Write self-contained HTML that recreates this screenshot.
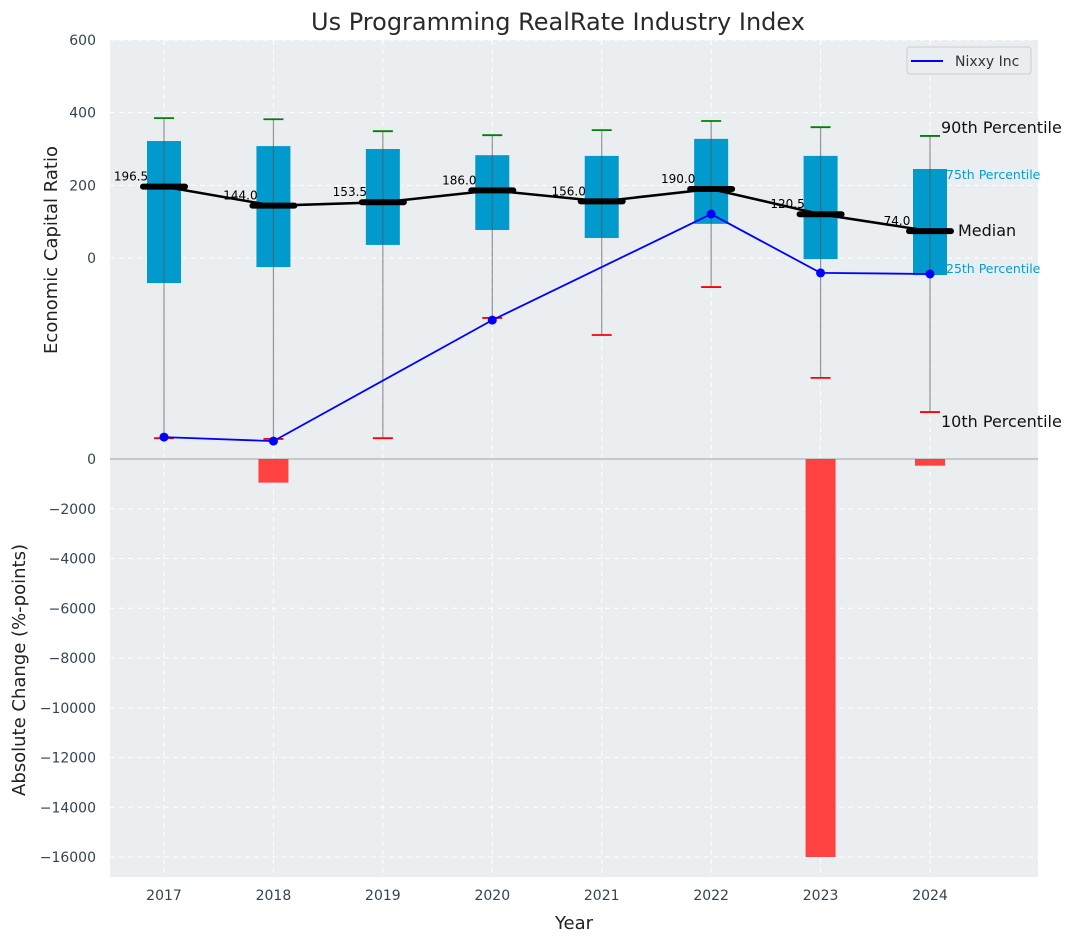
<!DOCTYPE html>
<html><head><meta charset="utf-8"><style>
body{margin:0;background:#fff;font-family:"Liberation Sans","DejaVu Sans",sans-serif;}
svg text{font-family:"DejaVu Sans","Liberation Sans",sans-serif;}
</style></head><body>
<svg id="c" width="1076" height="942" xmlns="http://www.w3.org/2000/svg">
<rect x="110" y="40" width="928" height="837" fill="#eaeef0"/>
<g id="grid"></g>
<g id="marks"></g>
<text x="558" y="30" font-size="24" text-anchor="middle" fill="#2a2a2a">Us Programming RealRate Industry Index</text>
<text x="574" y="929" font-size="18" text-anchor="middle" fill="#222">Year</text>
<text transform="translate(57,250) rotate(-90)" font-size="18" text-anchor="middle" fill="#222">Economic Capital Ratio</text>
<text transform="translate(25,670) rotate(-90)" font-size="18" text-anchor="middle" fill="#222">Absolute Change (%-points)</text>
<g>
<rect x="907" y="47" width="124" height="27" rx="3" fill="#eaeef0" stroke="#ccc"/>
<line x1="911" y1="61" x2="943" y2="61" stroke="#0000ff" stroke-width="2"/>
<text x="955" y="66" font-size="14" fill="#333">Nixxy Inc</text>
</g>
<text x="941" y="133" font-size="16" fill="#111">90th Percentile</text>
<text x="946" y="179" font-size="12.5" fill="#00a0d0">75th Percentile</text>
<text x="958" y="236" font-size="16" fill="#111">Median</text>
<text x="946" y="273" font-size="12.5" fill="#00a0d0">25th Percentile</text>
<text x="941" y="427" font-size="16" fill="#111">10th Percentile</text>
</svg>
<script>
const years=[2017,2018,2019,2020,2021,2022,2023,2024];
const p90=[385,382,349,338,352,377,360,336];
const q3=[322,308,300,283,281,328,281,245];
const medians=[196.5,144.0,153.5,186.0,156.0,190.0,120.5,74.0];
const q1=[-69,-25,36,77,55,94,-3,-47];
const p10=[-496,-498,-496,-165,-212,-80,-330,-424];
const nixxyYears=[2017,2018,2020,2022,2023,2024];
const nixxy=[-493,-504,-171,121,-41,-44];
const changes=[0,-950,0,0,0,0,-16000,-270];
const topTicks=[0,200,400,600];
const bottomTicks=[0,-2000,-4000,-6000,-8000,-10000,-12000,-14000,-16000];

const NS="http://www.w3.org/2000/svg";
const X=y=>164+(y-2017)*109.43;
const YT=v=>258-v*0.3633;
const YB=v=>459-v*(-398/-16000);
const g=document.getElementById('grid'),m=document.getElementById('marks'),svg=document.getElementById('c');
function el(p,t,a){const e=document.createElementNS(NS,t);for(const k in a)e.setAttribute(k,a[k]);p.appendChild(e);return e;}

[600,400,200,0].forEach(v=>{const l=el(g,'line',{x1:110,x2:1038,y1:YT(v),y2:YT(v),stroke:'#fff','stroke-dasharray':'5,4','stroke-width':1});

});
bottomTicks.forEach(v=>{if(v===0)return;const l=el(g,'line',{x1:110,x2:1038,y1:YB(v),y2:YB(v),stroke:'#fff','stroke-dasharray':'5,4'});

});
years.forEach(y=>{const l=el(g,'line',{x1:X(y),x2:X(y),y1:40,y2:877,stroke:'#fff','stroke-dasharray':'5,4'});


const t=el(svg,'text',{x:X(y),y:900,'font-size':14,'text-anchor':'middle',fill:'#334455'});t.textContent=y;

});
topTicks.forEach(v=>{const t=el(svg,'text',{x:96,y:YT(v)+5,'font-size':14,'text-anchor':'end',fill:'#334455'});t.textContent=v;

});
bottomTicks.forEach(v=>{const t=el(svg,'text',{x:96,y:YB(v)+5,'font-size':14,'text-anchor':'end',fill:'#334455'});t.textContent=v.toString().replace('-','\u2212');

});
const z=el(m,'line',{x1:110,x2:1038,y1:YB(0),y2:YB(0),stroke:'#bbb','stroke-width':1.5});



years.forEach((y,i)=>{const x=X(y);
const b=el(m,'rect',{x:x-17,y:YT(q3[i]),width:34,height:YT(q1[i])-YT(q3[i]),fill:'#009acd'});


const w=el(m,'line',{x1:x,x2:x,y1:YT(p90[i]),y2:YT(p10[i]),stroke:'#555','stroke-opacity':0.6,'stroke-width':1.2});


const c1=el(m,'line',{x1:x-10,x2:x+10,y1:YT(p90[i]),y2:YT(p90[i]),stroke:'green','stroke-width':1.8});


const c2=el(m,'line',{x1:x-10,x2:x+10,y1:YT(p10[i]),y2:YT(p10[i]),stroke:'red','stroke-width':1.8});


if(changes[i]!==0){const r=el(m,'rect',{x:x-15,y:YB(0),width:30,height:YB(changes[i])-YB(0),fill:'#ff3333','fill-opacity':0.92});

}
});
const ml=el(m,'polyline',{points:years.map((y,i)=>X(y)+','+YT(medians[i])).join(' '),fill:'none',stroke:'#000','stroke-width':2.5});


years.forEach((y,i)=>{const x=X(y);
const s=el(m,'line',{x1:x-21,x2:x+21,y1:YT(medians[i]),y2:YT(medians[i]),stroke:'#000','stroke-width':6,'stroke-linecap':'round'});


const t=el(m,'text',{x:x-33,y:YT(medians[i])-6,'font-size':12,'text-anchor':'middle',fill:'#000'});t.textContent=medians[i].toFixed(1);

});
const nl=el(m,'polyline',{points:nixxyYears.map((y,i)=>X(y)+','+YT(nixxy[i])).join(' '),fill:'none',stroke:'#0000ff','stroke-width':1.8});


nixxyYears.forEach((y,i)=>{const p=el(m,'circle',{cx:X(y),cy:YT(nixxy[i]),r:4.5,fill:'#0000ff'});

});
</script>
</body></html>
